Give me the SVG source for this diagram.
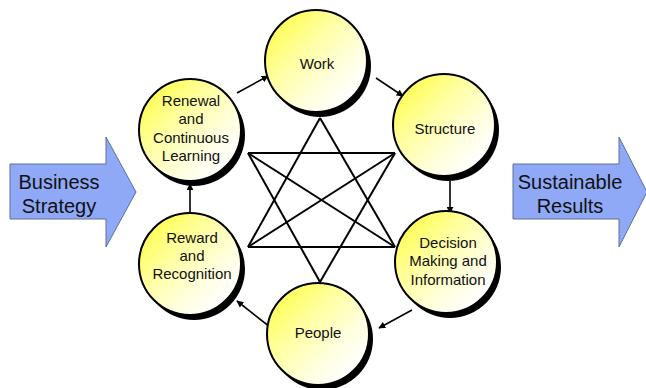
<svg xmlns="http://www.w3.org/2000/svg" width="646" height="388" viewBox="0 0 646 388">
  <defs>
    <linearGradient id="ball" x1="0.15" y1="0.15" x2="0.85" y2="0.85">
      <stop offset="0" stop-color="#ffff5c"/>
      <stop offset="0.3" stop-color="#ffff9a"/>
      <stop offset="0.7" stop-color="#ffffdc"/>
      <stop offset="1" stop-color="#ffffff"/>
    </linearGradient>
    <marker id="head" viewBox="0 0 10 10" refX="9" refY="5" markerWidth="7" markerHeight="7" markerUnits="userSpaceOnUse" orient="auto">
      <path d="M0,0 L10,5 L0,10 z" fill="#000"/>
    </marker>
  </defs>
  <style>
    .shadow { fill: #000; }
    .ball { fill: url(#ball); stroke: #000; stroke-width: 2; }
    .lbl { font-family: "Liberation Sans", Arial, sans-serif; font-size: 15px; fill: #111; text-anchor: middle; }
    .big { font-family: "Liberation Sans", Arial, sans-serif; font-size: 20px; fill: #111; text-anchor: middle; }
    .block { fill: #8fa9f6; stroke: #5e6f9a; stroke-width: 1; }
    .link { stroke: #000; stroke-width: 2; fill: none; }
    .flow { stroke: #000; stroke-width: 1.6; fill: none; marker-end: url(#head); }
  </style>

  <rect width="646" height="388" fill="#fff"/>

  <!-- side arrows -->
  <g id="business-strategy">
    <path class="block" d="M10,164 H106 V137 L136,192 L106,247 V219 H10 Z"/>
    <text class="big" x="59" y="189">Business</text>
    <text class="big" x="59" y="213">Strategy</text>
  </g>
  <g id="sustainable-results">
    <path class="block" d="M513,164 H619 V137 L647,192 L619,247 V219 H513 Z"/>
    <text class="big" x="570" y="189">Sustainable</text>
    <text class="big" x="570" y="213">Results</text>
  </g>

  <!-- connectors: star lattice and cycle arrows -->
  <g id="connectors">
    <line class="link" x1="320" y1="118" x2="248" y2="247"/>
    <line class="link" x1="320" y1="118" x2="395" y2="247"/>
    <line class="link" x1="320" y1="282" x2="248" y2="153"/>
    <line class="link" x1="320" y1="282" x2="395" y2="153"/>
    <line class="link" x1="248" y1="153" x2="395" y2="153"/>
    <line class="link" x1="248" y1="247" x2="395" y2="247"/>
    <line class="link" x1="248" y1="153" x2="395" y2="247"/>
    <line class="link" x1="248" y1="247" x2="395" y2="153"/>

    <line class="flow" x1="376" y1="78" x2="403" y2="96"/>
    <line class="flow" x1="450" y1="181" x2="450" y2="213"/>
    <line class="flow" x1="412" y1="310" x2="379" y2="328"/>
    <line class="flow" x1="270" y1="327" x2="237" y2="301"/>
    <line class="flow" x1="190" y1="213" x2="190" y2="184"/>
    <line class="flow" x1="237" y1="93" x2="268" y2="76"/>
  </g>

  <!-- nodes -->
  <g id="work">
    <circle class="shadow" cx="320" cy="66" r="51"/>
    <circle class="ball" cx="316" cy="61" r="51"/>
    <text class="lbl" x="317" y="69">Work</text>
  </g>
  <g id="structure">
    <circle class="shadow" cx="448" cy="130" r="51"/>
    <circle class="ball" cx="444" cy="125" r="51"/>
    <text class="lbl" x="445" y="134">Structure</text>
  </g>
  <g id="decision-making">
    <circle class="shadow" cx="450" cy="267" r="51"/>
    <circle class="ball" cx="446" cy="262" r="51"/>
    <text class="lbl" x="448" y="248">Decision</text>
    <text class="lbl" x="448" y="266">Making and</text>
    <text class="lbl" x="448" y="285">Information</text>
  </g>
  <g id="people">
    <circle class="shadow" cx="322" cy="339" r="51"/>
    <circle class="ball" cx="318" cy="334" r="51"/>
    <text class="lbl" x="318" y="338">People</text>
  </g>
  <g id="reward">
    <circle class="shadow" cx="194" cy="269" r="51"/>
    <circle class="ball" cx="190" cy="264" r="51"/>
    <text class="lbl" x="192" y="243">Reward</text>
    <text class="lbl" x="192" y="261">and</text>
    <text class="lbl" x="192" y="279">Recognition</text>
  </g>
  <g id="renewal">
    <circle class="shadow" cx="194" cy="135" r="51"/>
    <circle class="ball" cx="190" cy="130" r="51"/>
    <text class="lbl" x="191" y="106">Renewal</text>
    <text class="lbl" x="191" y="124">and</text>
    <text class="lbl" x="191" y="143">Continuous</text>
    <text class="lbl" x="191" y="161">Learning</text>
  </g>
</svg>
